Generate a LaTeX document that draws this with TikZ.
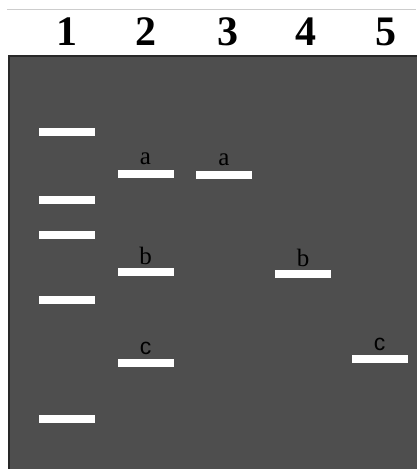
\documentclass[tikz,border=0pt]{standalone}
\usepackage{fontspec}
\setmainfont{Liberation Serif}
\newfontfamily\csans{Liberation Sans}
\usetikzlibrary{positioning}
\definecolor{gelgray}{RGB}{78,78,78}
\definecolor{gelrim}{RGB}{40,40,40}
\definecolor{topline}{RGB}{205,205,205}

\begin{document}
\begin{tikzpicture}[x=1pt,y=-1pt,
  band/.style={fill=white, inner sep=0pt, minimum width=56pt, minimum height=8pt},
  lbl/.style={inner sep=0pt, anchor=south, font=\fontsize{25}{25}\selectfont, text=black},
  lane/.style={inner sep=0pt, anchor=base, font=\fontsize{42}{42}\selectfont\bfseries}]
\useasboundingbox (0,0) rectangle (416,469);
\draw[topline, line width=1pt] (7,9) -- (416,9);
\filldraw[fill=gelgray, draw=gelrim, line width=1.5pt] (9,56) rectangle (420,472);

\node[lane] (n1) at (67,45) {1};
\node[lane] (n2) at (146,45) {2};
\node[lane] (n3) at (228,45) {3};
\node[lane] (n4) at (306,45) {4};
\node[lane] (n5) at (386,45) {5};

% lane 1: marker
\node[band] (m1) at (66.5,132) {};
\node[band] (m2) at (66.5,200) {};
\node[band] (m3) at (66.5,235) {};
\node[band] (m4) at (66.5,300) {};
\node[band] (m5) at (66.5,419) {};

% lane 2
\node[band] (a2) at (145.5,174) {};
\node[band] (b2) at (145.5,272) {};
\node[band] (c2) at (145.5,363) {};

% lanes 3 to 5
\node[band] (a3) at (224,175) {};
\node[band] (b4) at (303,274) {};
\node[band] (c5) at (379.5,359) {};

\node[lbl, above=5pt of a2] (la2) {a};
\node[lbl, above=5pt of a3] (la3) {a};
\node[lbl, above=3pt of b2] (lb2) {b};
\node[lbl, above=3pt of b4] (lb4) {b};
\node[lbl, above=4pt of c2, font=\fontsize{23}{23}\selectfont\csans] (lc2) {c};
\node[lbl, above=4pt of c5, font=\fontsize{23}{23}\selectfont\csans] (lc5) {c};
\end{tikzpicture}
\end{document}
